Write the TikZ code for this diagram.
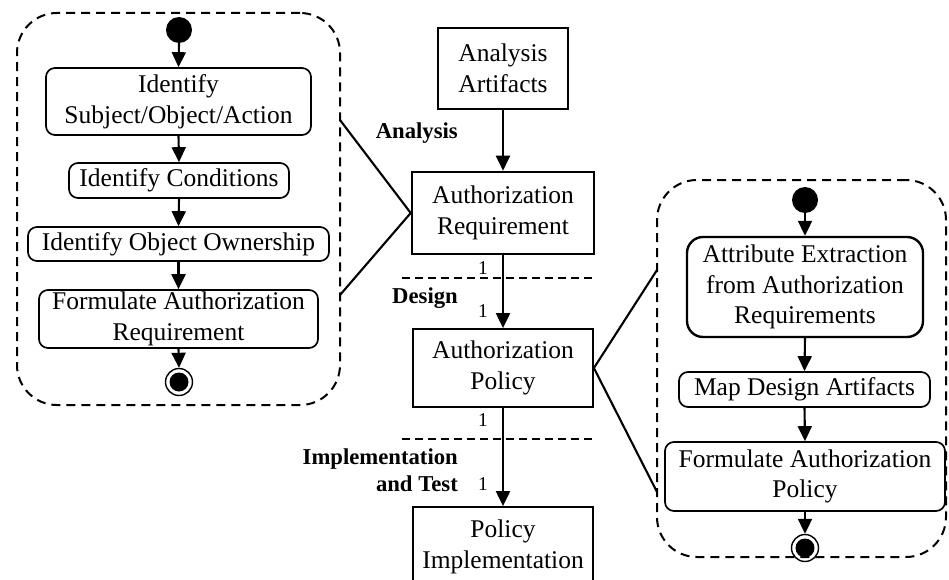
\documentclass[tikz,border=0pt]{standalone}
\usepackage{fontspec}
\setmainfont{Liberation Serif}
\usetikzlibrary{arrows.meta}
\newcommand\fsz{\fontsize{25.5}{30.5}\selectfont}
\begin{document}
\begin{tikzpicture}[x=1pt,y=-1pt,
  act/.style={draw, rounded corners=9pt, line width=1.7pt, align=center, inner sep=0pt, font=\fsz},
  bigact/.style={act, rounded corners=16pt, line width=2.4pt},
  box/.style={draw, line width=1.8pt, align=center, inner sep=0pt, font=\fsz},
  thickbox/.style={box, line width=2.6pt},
  arr/.style={-{Triangle[length=15pt,width=14pt]}, line width=2.1pt},
  link/.style={line width=2.1pt},
  grp/.style={draw, dash pattern=on 9pt off 6pt, line width=2pt, rounded corners=40pt, inner sep=0pt},
  hdash/.style={dash pattern=on 8pt off 5pt, line width=1.5pt},
  lbl/.style={font=\bfseries\fontsize{22.7}{27}\selectfont, align=right, inner sep=0pt},
  one/.style={font=\fontsize{19.5}{22}\selectfont, inner sep=0pt},
  startdot/.style={circle, fill, minimum size=26pt, inner sep=0pt},
  endring/.style={circle, draw, line width=1.4pt, minimum size=27pt, inner sep=0pt},
  enddot/.style={circle, fill, minimum size=19pt, inner sep=0pt}]
\useasboundingbox (0,0) rectangle (949,580);

% left group
\node[grp, minimum width=323pt, minimum height=392pt] (lg) at (178.5,209) {};
\node[startdot] (ls) at (179,30) {};
\node[act, minimum width=265pt, minimum height=67pt] (l1) at (178.5,101.5) {Identify\\Subject/Object/Action};
\node[act, minimum width=220pt, minimum height=35pt] (l2) at (179,180.5) {Identify Conditions};
\node[act, minimum width=301pt, minimum height=34pt] (l3) at (178.5,244) {Identify Object Ownership};
\node[act, minimum width=279pt, minimum height=58pt] (l4) at (178.5,319) {Formulate Authorization\\Requirement};
\node[endring] (le) at (179,382) {};
\node[enddot] (led) at (le.center) {};
\draw[arr] (ls.south) -- (l1.north);
\draw[arr] (l1.south) -- (l2.north);
\draw[arr] (l2.south) -- (l3.north);
\draw[arr] (l3.south) -- (l4.north);
\draw[arr] (l4.south) -- (le.north);

% center column
\node[thickbox, minimum width=130pt, minimum height=81pt] (aa) at (503,68.5) {Analysis\\Artifacts};
\node[thickbox, minimum width=182pt, minimum height=82pt] (ar) at (503,213) {Authorization\\Requirement};
\node[box, minimum width=180pt, minimum height=78pt] (ap) at (503,368) {Authorization\\Policy};
\node[box, minimum width=180pt, minimum height=80pt] (pi) at (503,547) {Policy\\Implementation};
\draw[arr] (aa.south) -- (ar.north);
\draw[arr] (ar.south) -- (ap.north);
\draw[arr] (ap.south) -- (pi.north);

\draw[hdash] (402,278) -- (594,278);
\draw[hdash] (402,439) -- (594,439);

\node[lbl, anchor=east] (tan) at (458,133) {Analysis};
\node[lbl, anchor=east] (tde) at (458,298) {Design};
\node[lbl, anchor=east] (tim) at (458,470.5) {Implementation\\and Test};

\node[one] (o1) at (483,268) {1};
\node[one] (o2) at (483,311) {1};
\node[one] (o3) at (483,420) {1};
\node[one] (o4) at (483,484) {1};

% right group
\node[grp, minimum width=289pt, minimum height=377pt] (rg) at (801.5,368.5) {};
\node[startdot] (rs) at (805,200) {};
\node[bigact, minimum width=236pt, minimum height=100pt] (r1) at (805,287) {Attribute Extraction\\from Authorization\\Requirements};
\node[act, minimum width=251pt, minimum height=35pt] (r2) at (804.5,389.5) {Map Design Artifacts};
\node[act, minimum width=280pt, minimum height=69pt] (r3) at (805,476.5) {Formulate Authorization\\Policy};
\node[endring] (re) at (805,548) {};
\node[enddot] (red) at (re.center) {};
\draw[arr] (rs.south) -- (r1.north);
\draw[arr] (r1.south) -- (r2.north);
\draw[arr] (r2.south) -- (r3.north);
\draw[arr] (r3.south) -- (re.north);

% links
\coordinate (la) at (340,120);
\coordinate (lb) at (340,295);
\coordinate (ra) at (657,270);
\coordinate (rb) at (657,492);
\draw[link] (la) -- (ar.west) -- (lb);
\draw[link] (ra) -- (ap.east) -- (rb);
\end{tikzpicture}
\end{document}
